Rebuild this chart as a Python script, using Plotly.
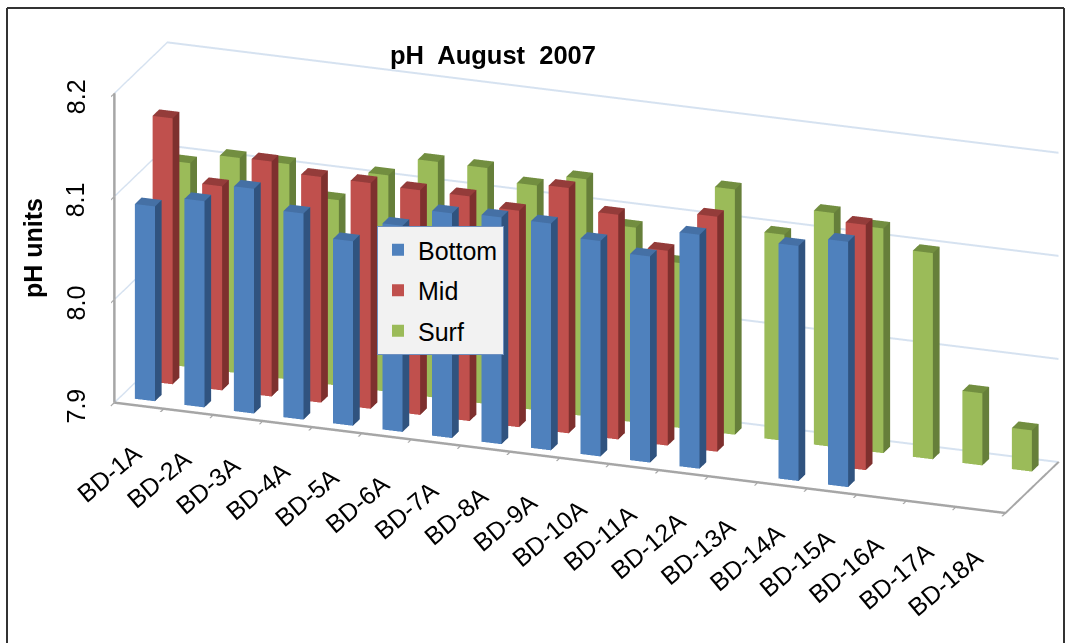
import plotly.graph_objects as go

categories = ["BD-1A","BD-2A","BD-3A","BD-4A","BD-5A","BD-6A","BD-7A","BD-8A","BD-9A","BD-10A","BD-11A","BD-12A","BD-13A","BD-14A","BD-15A","BD-16A","BD-17A","BD-18A"]
bottom = [8.089,8.100,8.118,8.100,8.079,8.100,8.118,8.120,8.120,8.109,8.100,8.127,None,8.128,8.138,None,None,None]
mid = [8.158,8.098,8.128,8.119,8.119,8.118,8.118,8.110,8.138,8.118,8.089,8.128,None,None,8.138,None,None,None]
surf = [8.098,8.109,8.109,8.080,8.110,8.129,8.129,8.118,8.130,8.089,8.060,8.138,8.100,8.127,8.118,8.100,7.970,7.940]
z_ticks = [7.9,8.0,8.1,8.2]
series = [("Bottom",bottom,"#4F81BD","#30537F","#4570A5"),("Mid",mid,"#C0504D","#7E302E","#943C3A"),("Surf",surf,"#9BBB59","#667F3A","#728E40")]
BASE = 7.9
BW, BD = 0.405, 0.38

fig = go.Figure()
quads = [([0,1,2,3],"front"),([1,5,6,2],"side"),([3,2,6,7],"top")]
for si,(name,vals,cf,cs,ct) in enumerate(series):
    X,Y,Z,I,J,K,FC=[],[],[],[],[],[],[]
    for ci,v in enumerate(vals):
        if v is None: continue
        x0,x1=ci+0.5-BW/2,ci+0.5+BW/2
        y0,y1=si+0.52-BD/2,si+0.52+BD/2
        n=len(X)
        X+=[x0,x1,x1,x0,x0,x1,x1,x0]
        Y+=[y0,y0,y0,y0,y1,y1,y1,y1]
        Z+=[BASE,BASE,v,v,BASE,BASE,v,v]
        for q,kind in quads:
            c={"front":cf,"side":cs,"top":ct}[kind]
            I+=[n+q[0],n+q[0]];J+=[n+q[1],n+q[2]];K+=[n+q[2],n+q[3]];FC+=[c,c]
    fig.add_trace(go.Mesh3d(x=X,y=Y,z=Z,i=I,j=J,k=K,facecolor=FC,flatshading=True,showlegend=False,hoverinfo="skip",
        lighting=dict(ambient=1,diffuse=0,specular=0,roughness=1,fresnel=0)))
    fig.add_trace(go.Scatter3d(x=[None],y=[None],z=[None],mode="markers",name=name,legendgroup=name,marker=dict(symbol="square",size=12,color=cf),showlegend=True))

scene_ann = []
for i,c in enumerate(categories):
    scene_ann.append(dict(x=i,y=0,z=BASE,text=c,showarrow=False,textangle=-40,xanchor="right",yanchor="top",xshift=35,yshift=-33,font=dict(size=25,color="black")))
for v in z_ticks:
    scene_ann.append(dict(x=0,y=0,z=v,text=f"{v:.1f}",showarrow=False,textangle=-90,xanchor="center",yanchor="middle",xshift=-38.5,yshift=-3,font=dict(size=25,color="black")))

ax=dict(showgrid=False,zeroline=False,showbackground=False,title="",showticklabels=False)
frame = dict(type="line",xref="paper",yref="paper",line=dict(color="#333333",width=2))
fig.update_layout(
    width=1066,height=643,margin=dict(l=0,r=0,t=0,b=0),paper_bgcolor="white",
    font=dict(family="Liberation Sans",color="black"),
    title=dict(text="pH  August  2007",x=493/1066,xanchor="center",y=1-55.5/643,yanchor="middle",font=dict(size=25.5,weight="bold")),
    legend=dict(x=377/1066,y=1-226/643,xanchor="left",yanchor="top",bgcolor="#F2F2F2",bordercolor="#6E90C0",borderwidth=1,font=dict(size=25),itemsizing="constant",tracegroupgap=5),
    scene=dict(
        domain=dict(x=[0,1],y=[0,1]),
        aspectmode="manual",aspectratio=dict(x=2.945,y=0.488,z=1.025),
        camera=dict(projection=dict(type="orthographic"),up=dict(x=0,y=0,z=1),center=dict(x=-0.1766,y=0,z=-0.1671),
            eye=dict(x=0.1404,y=-0.883,z=0.1779)),
        xaxis=dict(ax,range=[0,18],tickvals=list(range(19)),showline=True,linecolor="#A6A6A6",linewidth=5,ticks="outside",tickcolor="#A6A6A6",ticklen=5,tickwidth=3),
        yaxis=dict(ax,range=[0,3],tickvals=[],showline=True,linecolor="#A6A6A6",linewidth=5),
        zaxis=dict(ax,range=[7.9,8.2],tickvals=z_ticks,showgrid=True,gridcolor="#D6E2F0",gridwidth=4,showline=True,linecolor="#A6A6A6",linewidth=5,ticks="outside",tickcolor="#A6A6A6",ticklen=5,tickwidth=3),
        annotations=scene_ann,
    ),
    annotations=[dict(text="<b>pH units</b>",x=33/1066,y=1-248/643,xanchor="center",yanchor="middle",showarrow=False,font=dict(size=25),textangle=-90,xref="paper",yref="paper")],
    shapes=[dict(frame,x0=7/1066,x1=7/1066,y0=0,y1=1-8/643),dict(frame,x0=7/1066,x1=1064/1066,y0=1-8/643,y1=1-8/643),dict(frame,x0=1064/1066,x1=1064/1066,y0=0,y1=1-8/643)],
)
fig.write_html("out.html",post_script="document.body.style.margin='0';",config=dict(displayModeBar=False))
